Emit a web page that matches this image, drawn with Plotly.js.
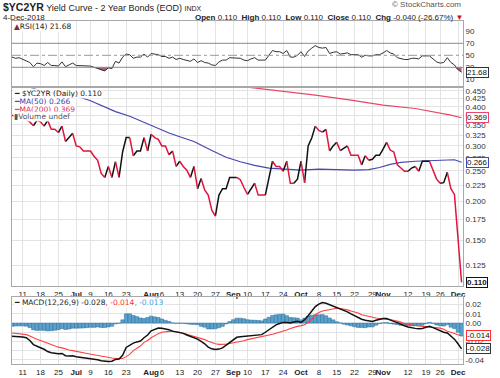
<!DOCTYPE html>
<html><head><meta charset="utf-8">
<script src="https://cdn.plot.ly/plotly-3.0.1.min.js"></script>
<style>html,body{margin:0;padding:0;background:#fff}#chart{width:500px;height:378px}</style>
</head><body><div id="chart"></div>
<script>
// ---------- DATA ----------
const startDate = '2018-06-06', endDate = '2018-12-04';
const holidays = ['2018-07-04','2018-09-03','2018-11-22'];

const closeVals = [
0.376,0.372,0.374,0.368,0.362,0.358,0.348,0.362,0.358,0.347,
0.362,0.339,0.339,0.331,0.347,0.310,0.320,0.329,0.300,0.298,
0.289,0.289,0.289,0.278,0.270,0.245,0.238,0.258,0.238,0.267,
0.238,0.287,0.319,0.319,0.279,0.289,0.289,0.319,0.289,0.327,
0.319,0.315,0.300,0.300,0.281,0.289,0.258,0.268,0.258,0.251,
0.238,0.258,0.219,0.236,0.217,0.209,0.187,0.179,0.209,0.219,
0.219,0.238,0.238,0.238,0.234,0.221,0.210,0.219,0.228,0.209,
0.209,0.209,0.235,0.268,0.258,0.258,0.249,0.268,0.228,0.228,
0.235,0.268,0.229,0.300,0.318,0.347,0.336,0.332,0.339,0.289,
0.300,0.308,0.290,0.295,0.300,0.280,0.280,0.280,0.261,0.279,
0.270,0.272,0.280,0.280,0.293,0.308,0.291,0.287,0.261,0.255,
0.249,0.249,0.255,0.258,0.249,0.268,0.268,0.268,0.249,0.235,
0.228,0.229,0.247,0.219,0.210,0.150,0.110];

const rsiVals = [
47,45,46,43,40,38,31,37,36,33,
38,33,33,32,39,31,34,37,33,33,
32,32,32,30,28,25,24,29,28,40,
37,47,52,51,45,47,47,52,47,53,
52,51,48,48,45,47,43,45,43,42,
40,44,38,41,38,37,34,33,39,42,
42,46,46,46,45,42,41,44,46,42,
42,42,50,58,56,56,53,58,47,47,
50,56,48,57,62,66,63,62,63,53,
55,56,52,53,54,51,51,51,47,50,
49,49,51,51,54,58,54,52,46,44,
43,43,45,45,44,49,49,49,44,39,
37,38,46,38,34,26,21.68];

const macdVals = [
-0.0144,-0.0144,-0.0147,-0.0151,-0.0160,-0.0190,-0.0234,-0.0255,-0.0268,-0.0285,
-0.0310,-0.0323,-0.0330,-0.0334,-0.0330,-0.0355,-0.0358,-0.0356,-0.0366,-0.0370,
-0.0376,-0.0380,-0.0384,-0.0392,-0.0398,-0.0410,-0.0417,-0.0417,-0.0415,-0.0395,
-0.0390,-0.0350,-0.0265,-0.0240,-0.0218,-0.0205,-0.0195,-0.0160,-0.0130,-0.0085,
-0.0068,-0.0055,-0.0056,-0.0063,-0.0072,-0.0088,-0.0095,-0.0102,-0.0112,-0.0130,
-0.0145,-0.0160,-0.0175,-0.0200,-0.0225,-0.0262,-0.0280,-0.0287,-0.0283,-0.0270,
-0.0240,-0.0205,-0.0180,-0.0155,-0.0148,-0.0145,-0.0144,-0.0140,-0.0135,-0.0130,
-0.0126,-0.0100,-0.0072,-0.0040,-0.0020,-0.0005,0.0007,0.0005,0.0000,0.0012,
0.0018,0.0007,0.0036,0.0080,0.0125,0.0179,0.0205,0.0222,0.0215,0.0200,
0.0190,0.0175,0.0160,0.0140,0.0122,0.0100,0.0080,0.0062,0.0042,0.0030,
0.0025,0.0018,0.0030,0.0043,0.0050,0.0050,0.0030,0.0018,0.0005,-0.0015,
-0.0030,-0.0042,-0.0052,-0.0058,-0.0061,-0.0060,-0.0045,-0.0036,-0.0050,-0.0068,
-0.0085,-0.0100,-0.0108,-0.0145,-0.0175,-0.0225,-0.0280];

const signalVals = [
-0.0108,-0.0112,-0.0116,-0.0120,-0.0126,-0.0140,-0.0160,-0.0175,-0.0190,-0.0205,
-0.0225,-0.0240,-0.0252,-0.0262,-0.0270,-0.0285,-0.0293,-0.0300,-0.0310,-0.0315,
-0.0323,-0.0330,-0.0338,-0.0345,-0.0355,-0.0362,-0.0368,-0.0375,-0.0380,-0.0386,
-0.0388,-0.0385,-0.0365,-0.0340,-0.0300,-0.0275,-0.0250,-0.0210,-0.0190,-0.0160,
-0.0135,-0.0115,-0.0100,-0.0092,-0.0090,-0.0090,-0.0092,-0.0100,-0.0110,-0.0122,
-0.0132,-0.0145,-0.0158,-0.0165,-0.0180,-0.0198,-0.0215,-0.0225,-0.0232,-0.0234,
-0.0230,-0.0222,-0.0216,-0.0208,-0.0200,-0.0192,-0.0180,-0.0172,-0.0165,-0.0158,
-0.0150,-0.0144,-0.0135,-0.0122,-0.0110,-0.0100,-0.0090,-0.0075,-0.0060,-0.0045,
-0.0036,-0.0028,-0.0018,0.0005,0.0040,0.0090,0.0115,0.0130,0.0136,0.0145,
0.0155,0.0161,0.0158,0.0152,0.0143,0.0130,0.0120,0.0110,0.0090,0.0080,
0.0068,0.0060,0.0054,0.0050,0.0048,0.0045,0.0036,0.0030,0.0022,0.0010,
-0.0007,-0.0015,-0.0022,-0.0028,-0.0032,-0.0036,-0.0040,-0.0043,-0.0047,-0.0047,
-0.0055,-0.0068,-0.0090,-0.0100,-0.0115,-0.0125,-0.0140];

const ma50Dates = ['2018-06-13','2018-06-18','2018-06-22','2018-07-02','2018-07-09','2018-07-12','2018-07-18','2018-07-24','2018-07-31','2018-08-03','2018-08-08','2018-08-13','2018-08-17','2018-08-24','2018-08-30','2018-09-06','2018-09-12','2018-09-18','2018-09-24','2018-10-01','2018-10-08','2018-10-15','2018-10-22','2018-10-26','2018-10-31','2018-11-05','2018-11-08','2018-11-14','2018-11-21','2018-11-27','2018-11-30','2018-12-04'];
const ma50Vals = [0.462,0.450,0.442,0.433,0.418,0.404,0.386,0.373,0.352,0.340,0.330,0.321,0.310,0.290,0.276,0.267,0.260,0.255,0.253,0.251,0.253,0.252,0.251,0.252,0.256,0.262,0.266,0.268,0.270,0.271,0.271,0.266];

const ma200Dates = ['2018-09-10','2018-09-21','2018-10-05','2018-10-19','2018-11-01','2018-11-14','2018-11-23','2018-11-29','2018-12-04'];
const ma200Vals = [0.462,0.450,0.436,0.420,0.405,0.395,0.384,0.376,0.369];

const tickDates = ['2018-06-11','2018-06-18','2018-06-25','2018-07-02','2018-07-09','2018-07-16','2018-07-23','2018-08-01','2018-08-06','2018-08-13','2018-08-20','2018-08-27','2018-09-04','2018-09-10','2018-09-17','2018-09-24','2018-10-01','2018-10-08','2018-10-15','2018-10-22','2018-10-29','2018-11-01','2018-11-12','2018-11-19','2018-11-26','2018-12-03'];
const tickLabels = ['11','18','25','<b>Jul</b>','9','16','23','<b>Aug</b>','6','13','20','27','<b>Sep</b>','10','17','24','<b>Oct</b>','8','15','22','29','<b>Nov</b>','12','19','26','<b>Dec</b>'];

const rsiTicks = [10,30,50,70,90];
const priceTicks = [0.125,0.150,0.175,0.200,0.225,0.250,0.275,0.300,0.325,0.350,0.375,0.400,0.425,0.450];
const macdTicks = [-0.04,-0.03,-0.02,-0.01,0,0.01,0.02];
const macdTickText = ['-0.04','-0.03','-0.02','-0.01','0.00','0.01','0.02'];

// ---------- trading calendar ----------
const dates = [];
(function(){
  let d = new Date(startDate+'T00:00:00Z'); const e = new Date(endDate+'T00:00:00Z');
  while (d <= e) {
    const s = d.toISOString().slice(0,10); const wd = d.getUTCDay();
    if (wd!==0 && wd!==6 && holidays.indexOf(s)<0) dates.push(s);
    d = new Date(d.getTime()+86400000);
  }
})();
const n = dates.length;

// ---------- geometry ----------
const L=12, R=463, T=21, B=364;
const px = x => (x-L)/(R-L);
const py = y => (B-y)/(B-T);

const FONT = 'Liberation Sans, Arial, sans-serif';
const LEG = 'DejaVu Sans, Verdana, sans-serif';

// ---------- traces ----------
const traces = [];
traces.push({x:dates, y:dates.map(()=>30), xaxis:'x', yaxis:'y', mode:'lines', line:{width:0, color:'rgba(0,0,0,0)'}, showlegend:false});
traces.push({x:dates, y:rsiVals.map(v=>Math.min(v,30)), xaxis:'x', yaxis:'y', mode:'lines', line:{width:0, color:'rgba(0,0,0,0)'}, fill:'tonexty', fillcolor:'rgba(150,55,75,0.8)', showlegend:false});
traces.push({x:dates, y:rsiVals, xaxis:'x', yaxis:'y', mode:'lines', line:{color:'#333', width:1}, showlegend:false});

traces.push({x:ma200Dates, y:ma200Vals, xaxis:'x2', yaxis:'y2', mode:'lines', line:{color:'#e8466a', width:1.2}, showlegend:false});
traces.push({x:ma50Dates, y:ma50Vals, xaxis:'x2', yaxis:'y2', mode:'lines', line:{color:'#4646b4', width:1.2}, showlegend:false});

const up={x:[],y:[]}, dn={x:[],y:[]};
let prev=null;
for (let i=1;i<n;i++){
  let c = closeVals[i]>closeVals[i-1]?'up':(closeVals[i]<closeVals[i-1]?'dn':(prev||'dn'));
  const t = c==='up'?up:dn;
  if (prev!==c){ if (t.x.length){t.x.push(dates[i-1]); t.y.push(null);} t.x.push(dates[i-1]); t.y.push(closeVals[i-1]); }
  t.x.push(dates[i]); t.y.push(closeVals[i]);
  prev=c;
}
traces.push({x:up.x, y:up.y, xaxis:'x2', yaxis:'y2', mode:'lines', line:{color:'#111', width:1.5}, connectgaps:false, showlegend:false});
traces.push({x:dn.x, y:dn.y, xaxis:'x2', yaxis:'y2', mode:'lines', line:{color:'#e0143c', width:1.5}, connectgaps:false, showlegend:false});

const histVals = macdVals.map((v,i)=>v-signalVals[i]);
traces.push({type:'bar', x:dates, y:histVals, xaxis:'x3', yaxis:'y3', marker:{color:'#5aa2cc', line:{color:'#2c6a98', width:0.5}}, showlegend:false});
traces.push({x:dates, y:signalVals, xaxis:'x3', yaxis:'y3', mode:'lines', line:{color:'#ff4040', width:1.1}, showlegend:false});
traces.push({x:dates, y:macdVals, xaxis:'x3', yaxis:'y3', mode:'lines', line:{color:'#111', width:1.5}, showlegend:false});

// ---------- axes ----------
function xax(anchor, labels){
  return {anchor:anchor, domain:[0,1], type:'category', categoryorder:'array', categoryarray:dates,
    range:[0, n-1+0.4], tickmode:'array', tickvals:tickDates, ticktext:tickLabels, tickangle:0,
    showticklabels:labels, ticks:'', showgrid:true, gridcolor:'#e3e3e3', gridwidth:1,
    showline:true, mirror:true, linecolor:'#a8a8a8', linewidth:1, zeroline:false,
    tickfont:{family:FONT, size:8, color:'#222'}, fixedrange:true};
}
function yax(anchor, domain, extra){
  return Object.assign({anchor:anchor, domain:domain, side:'right', ticks:'', showline:true, mirror:true,
    linecolor:'#a8a8a8', linewidth:1, zeroline:false, showgrid:true, gridcolor:'#e3e3e3',
    tickfont:{family:FONT, size:8, color:'#333'}, fixedrange:true}, extra);
}

const layout = {
  width:500, height:378, margin:{l:L, r:500-R, t:T, b:378-B},
  paper_bgcolor:'#fff', plot_bgcolor:'#fff', showlegend:false, bargap:0,
  xaxis: xax('y', false),
  yaxis: yax('x', [py(86),1], {range:[-1.2,107.2], tickmode:'array', tickvals:rsiTicks, showgrid:false}),
  xaxis2: xax('y2', true),
  yaxis2: yax('x2', [py(286),py(88)], {type:'log', range:[-0.970,-0.338], tickmode:'array', tickvals:priceTicks, tickformat:'.3f'}),
  xaxis3: xax('y3', true),
  yaxis3: yax('x3', [0,py(297)], {range:[-0.0445,0.0283], tickmode:'array', tickvals:macdTicks, ticktext:macdTickText}),
  shapes:[
    {type:'line', xref:'x domain', yref:'y', x0:0, x1:1, y0:70, y1:70, line:{color:'#8a8a8a', width:1}},
    {type:'line', xref:'x domain', yref:'y', x0:0, x1:1, y0:30, y1:30, line:{color:'#8a8a8a', width:1}},
    {type:'line', xref:'x domain', yref:'y', x0:0, x1:1, y0:50, y1:50, line:{color:'#999', width:1, dash:'dashdot'}}
  ],
  annotations:[]
};

const A = layout.annotations;
function txt(x,y,text,opts){
  A.push(Object.assign({xref:'paper', yref:'paper', x:px(x), y:py(y), text:text, showarrow:false,
    xanchor:'left', yanchor:'middle', font:{family:FONT, size:9, color:'#222'}}, opts||{}));
}
// header
txt(1,7,'<b><span style="font-size:10.5px">$YC2YR</span></b> Yield Curve - 2 Year Bonds (EOD) <span style="font-size:7px">INDX</span>',{font:{family:FONT,size:9,color:'#222'}});
txt(463,5,'© StockCharts.com',{xanchor:'right', font:{family:FONT,size:8,color:'#555'}});
txt(1,17,'4-Dec-2018',{font:{family:FONT,size:8,color:'#222'}});
txt(465,17,'<b>Open</b> 0.110  <b>High</b> 0.110  <b>Low</b> 0.110  <b>Close</b> 0.110  <b>Chg</b> -0.040 (-26.67%) <span style="color:#d0102a">▼</span>',{xanchor:'right', font:{family:FONT,size:8,color:'#222'}});

// panel legends
const legBg = 'rgba(255,255,255,0.9)';
txt(13,26,'<span style="color:#7a2a3a">▲</span>RSI(14) 21.68',{bgcolor:legBg, borderpad:0, font:{family:LEG,size:7.5,color:'#222'}});
txt(13,94,'━ $YC2YR (Daily) 0.110',{bgcolor:legBg, borderpad:0, font:{family:LEG,size:7.5,color:'#222'}});
txt(13,101.5,'<span style="color:#4646b4">━</span><span style="color:#3b3bb0">MA(50) 0.266</span>',{bgcolor:legBg, borderpad:0, font:{family:LEG,size:7.5,color:'#3b3bb0'}});
txt(13,109,'<span style="color:#e8466a">━</span><span style="color:#e0305a">MA(200) 0.369</span>',{bgcolor:legBg, borderpad:0, font:{family:LEG,size:7.5,color:'#e0305a'}});
txt(13,116.5,'<span style="color:#555">▮</span>Volume undef',{bgcolor:legBg, borderpad:0, font:{family:LEG,size:7.5,color:'#555'}});
txt(13,302.5,'━ MACD(12,26,9) -0.028<span style="color:#ff2a2a">, -0.014</span><span style="color:#3aa0d8">, -0.013</span>',{bgcolor:legBg, borderpad:0, font:{family:LEG,size:7.5,color:'#222'}});

// last-value boxes
function box(yref, yval, text, border, bold){
  A.push({xref:'paper', yref:yref, x:px(466), y:yval, text: bold?'<b>'+text+'</b>':text, showarrow:false,
    xanchor:'left', yanchor:'middle', bgcolor:'#fff', bordercolor:border, borderwidth:1, borderpad:0,
    font:{family:FONT, size:8, color:'#111'}});
}
box('y', rsiVals[n-1], rsiVals[n-1].toFixed(2), '#333', false);
box('y2', Math.log10(ma200Vals[ma200Vals.length-1]), ma200Vals[ma200Vals.length-1].toFixed(3), '#e8466a', false);
box('y2', Math.log10(ma50Vals[ma50Vals.length-1]), ma50Vals[ma50Vals.length-1].toFixed(3), '#4646b4', false);
box('y2', Math.log10(closeVals[n-1]), closeVals[n-1].toFixed(3), '#111', true);
box('y3', signalVals[n-1], signalVals[n-1].toFixed(3), '#ff3030', false);
box('y3', macdVals[n-1], macdVals[n-1].toFixed(3), '#333', false);

Plotly.newPlot('chart', traces, layout, {staticPlot:true, displayModeBar:false});
</script>
</body></html>
